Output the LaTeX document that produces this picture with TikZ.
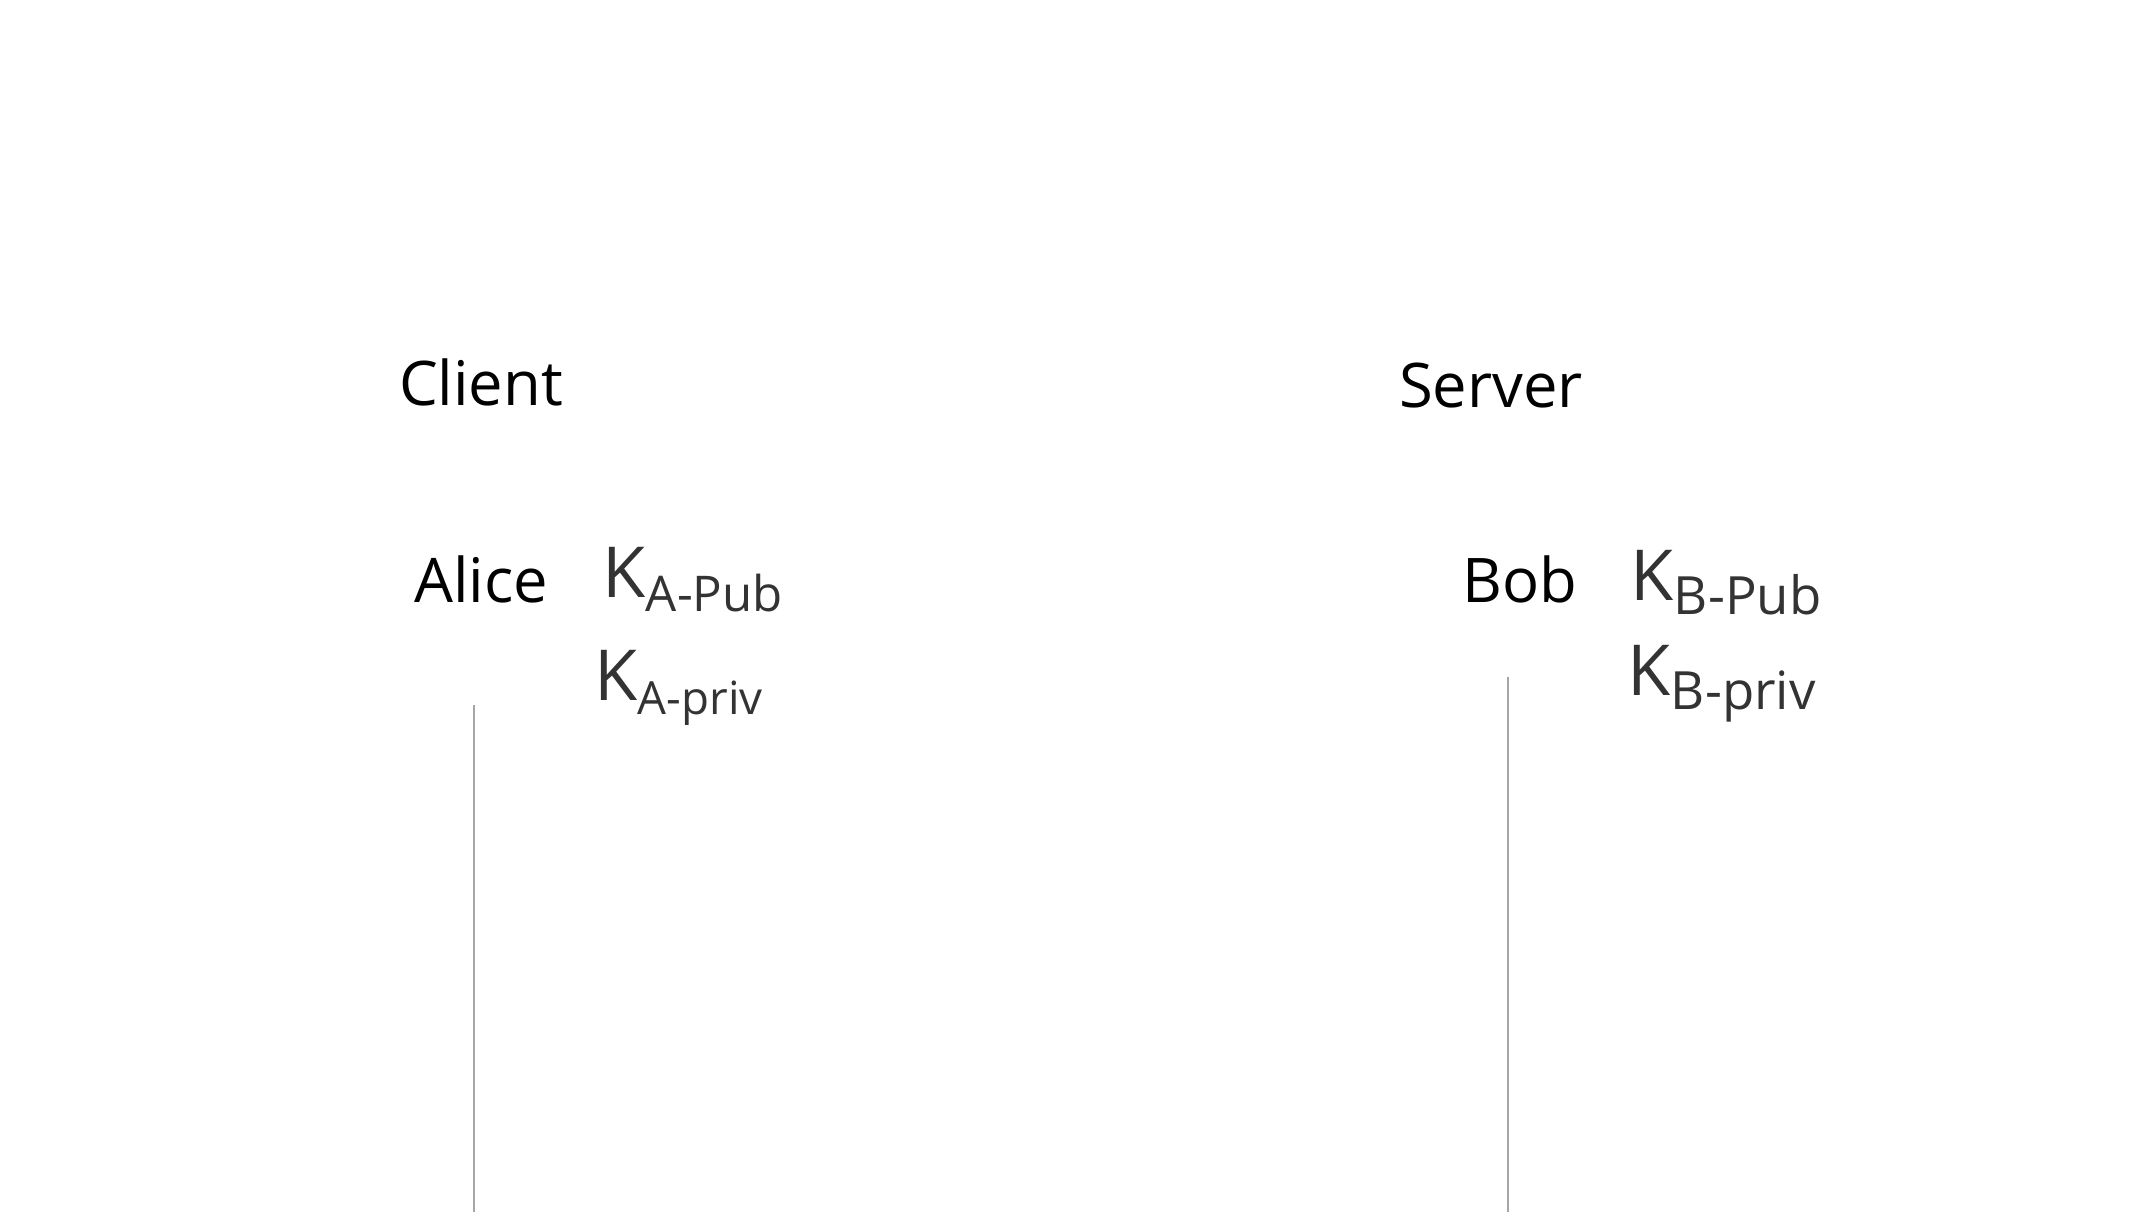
\documentclass[tikz,border=0pt]{standalone}
\usepackage{fontspec}
\setmainfont{Open Sans}
\usepackage{tikz}
\usetikzlibrary{positioning,calc}

\newcommand{\keyname}[3]{{\fontsize{20}{20}\selectfont K}\raisebox{-0.4em}{\fontsize{#3}{#3}\selectfont #1-#2}}

\begin{document}
\begin{tikzpicture}[x=0.01cm,y=-0.01cm,
  side/.style={font=\fontsize{17.5}{17.5}\selectfont,anchor=base,inner sep=0pt},
  party/.style={font=\fontsize{17.5}{17.5}\selectfont,anchor=base,inner sep=0pt},
  keylbl/.style={anchor=base west,inner sep=0pt,text=black!80},
  life/.style={draw=black!35,line width=0.8pt}]
  \useasboundingbox (0,0) rectangle (2156,1212);
  % sides
  \node[side] (client) at (481,405) {Client};
  \node[side] (server) at (1491,407) {Server};
  % parties and their keys
  \node[party] (alice) at (481,602) {Alice};
  \node[party] (bob) at (1520,602) {Bob};
  \node[keylbl] (apub) at (602,597) {\keyname{A}{Pub}{14}};
  \node[keylbl] (apriv) at (594,700) {\keyname{A}{priv}{13}};
  \node[keylbl] (bpub) at (1630,600) {\keyname{B}{Pub}{15}};
  \node[keylbl] (bpriv) at (1627,695) {\keyname{B}{priv}{15}};
  % lifelines
  \coordinate (alicetop) at (474,705);
  \coordinate (alicebot) at (474,1212);
  \coordinate (bobtop) at (1508,677);
  \coordinate (bobbot) at (1508,1212);
  \draw[life] (alicetop) -- (alicebot);
  \draw[life] (bobtop) -- (bobbot);
\end{tikzpicture}
\end{document}
